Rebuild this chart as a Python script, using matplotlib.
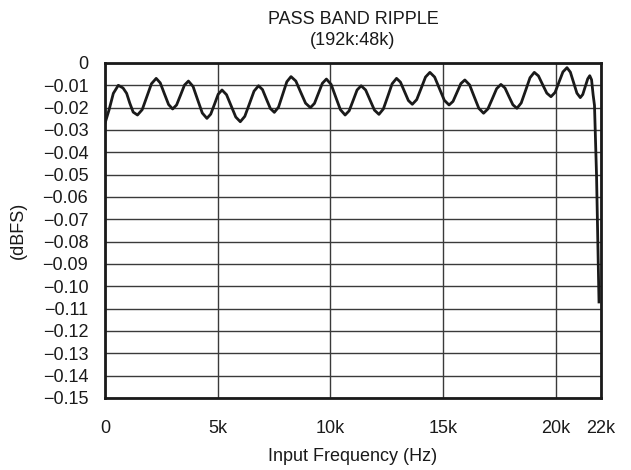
import matplotlib
matplotlib.use("Agg")
import matplotlib.pyplot as plt
from matplotlib.ticker import FixedLocator

plt.rcParams['font.family'] = ['Liberation Sans', 'DejaVu Sans']

# Frequency in kHz, level in dBFS
freq_khz = [
    0.00, 0.18, 0.37, 0.59, 0.80, 0.96, 1.10, 1.25, 1.44,
    1.65, 1.855, 2.06, 2.27, 2.45, 2.635, 2.82, 3.00,
    3.175, 3.35, 3.525, 3.70, 3.905, 4.11, 4.315, 4.52,
    4.69, 4.855, 5.02, 5.19, 5.39, 5.595, 5.80, 6.00,
    6.20, 6.405, 6.61, 6.81, 6.985, 7.16, 7.335, 7.51,
    7.695, 7.88, 8.065, 8.25, 8.465, 8.68, 8.895, 9.11,
    9.29, 9.465, 9.64, 9.82, 10.03, 10.235, 10.44, 10.65,
    10.83, 11.005, 11.18, 11.36, 11.56, 11.755, 11.95, 12.15,
    12.345, 12.54, 12.735, 12.93, 13.105, 13.28, 13.455, 13.63,
    13.825, 14.02, 14.215, 14.41, 14.62, 14.835, 15.05, 15.26,
    15.435, 15.61, 15.785, 15.96, 16.17, 16.375, 16.58, 16.79,
    16.98, 17.175, 17.37, 17.56, 17.74, 17.915, 18.09, 18.27,
    18.46, 18.655, 18.85, 19.04, 19.225, 19.41, 19.595, 19.78,
    19.96, 20.135, 20.31, 20.49, 20.64, 20.785, 20.93, 21.08,
    21.19, 21.30, 21.41, 21.50, 21.58, 21.65, 21.71, 21.80, 21.91,
]
level_dbfs = [
    -0.0270, -0.0210, -0.0136, -0.0100, -0.0112, -0.0136, -0.0180, -0.0220, -0.0233,
    -0.0209, -0.0151, -0.0093, -0.0069, -0.0089, -0.0138, -0.0186, -0.0206,
    -0.0188, -0.0144, -0.0099, -0.0081, -0.0105, -0.0165, -0.0224, -0.0248,
    -0.0229, -0.0185, -0.0140, -0.0121, -0.0142, -0.0192, -0.0242, -0.0263,
    -0.0239, -0.0183, -0.0126, -0.0102, -0.0119, -0.0162, -0.0204, -0.0221,
    -0.0198, -0.0141, -0.0084, -0.0061, -0.0081, -0.0131, -0.0180, -0.0200,
    -0.0181, -0.0136, -0.0091, -0.0072, -0.0096, -0.0153, -0.0209, -0.0233,
    -0.0214, -0.0168, -0.0121, -0.0102, -0.0121, -0.0166, -0.0211, -0.0230,
    -0.0206, -0.0150, -0.0093, -0.0069, -0.0086, -0.0127, -0.0168, -0.0185,
    -0.0164, -0.0114, -0.0063, -0.0042, -0.0063, -0.0115, -0.0167, -0.0188,
    -0.0172, -0.0132, -0.0092, -0.0076, -0.0098, -0.0151, -0.0203, -0.0225,
    -0.0206, -0.0161, -0.0115, -0.0096, -0.0112, -0.0150, -0.0187, -0.0203,
    -0.0179, -0.0123, -0.0066, -0.0042, -0.0058, -0.0097, -0.0135, -0.0151,
    -0.0132, -0.0086, -0.0040, -0.0021, -0.0041, -0.0088, -0.0135, -0.0155,
    -0.0141, -0.0106, -0.0071, -0.0057, -0.0075, -0.0143, -0.0190, -0.0500, -0.1070,
]

xtick_vals = [0, 5, 10, 15, 20, 22]
xtick_labels = ["0", "5k", "10k", "15k", "20k", "22k"]
ytick_vals = [-0.01 * i for i in range(16)]
ytick_labels = ["0"] + ["\u2212%.2f" % (0.01 * i) for i in range(1, 16)]

FS = 13
fig = plt.figure(figsize=(6.31, 4.70), dpi=100)
ax = fig.add_axes([0.1664, 0.1532, 0.7861, 0.7128])

ax.plot(freq_khz, level_dbfs, color="#1a1a1a", lw=2.0, solid_joinstyle="round", zorder=3)

ax.set_xlim(0, 22)
ax.set_ylim(-0.15, 0)
ax.xaxis.set_major_locator(FixedLocator(xtick_vals))
ax.set_xticklabels(xtick_labels)
ax.yaxis.set_major_locator(FixedLocator(ytick_vals))
ax.set_yticklabels(ytick_labels)
ax.tick_params(axis="both", length=0, labelsize=FS, colors="#1a1a1a")
ax.tick_params(axis="x", pad=16)
ax.tick_params(axis="y", pad=12)

ax.grid(True, color="#3a3a3a", lw=1.0, zorder=1)
for s in ax.spines.values():
    s.set_linewidth(2.0)
    s.set_color("#1a1a1a")

ax.set_xlabel("Input Frequency (Hz)", fontsize=FS, labelpad=8, color="#1a1a1a")
ax.set_ylabel("(dBFS)", fontsize=FS, labelpad=11, color="#1a1a1a")
ax.set_title("PASS BAND RIPPLE\n(192k:48k)", fontsize=FS, pad=13, color="#1a1a1a",
             linespacing=1.3)

fig.savefig("out.png", dpi=100)
